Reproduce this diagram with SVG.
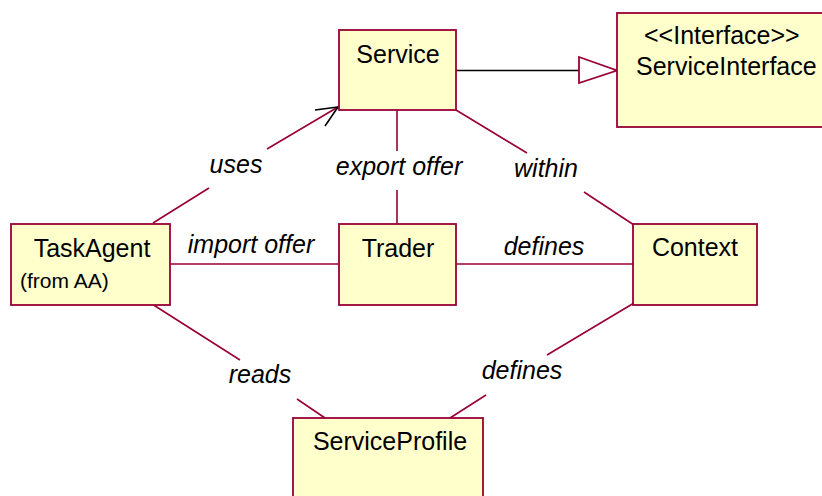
<svg xmlns="http://www.w3.org/2000/svg" width="822" height="496" viewBox="0 0 822 496">
<style>
.box{fill:#FFFFCC;stroke:#990033;stroke-width:1.8}
.name{font-family:"Liberation Sans",Arial,sans-serif;font-size:25px;fill:#000}
.small{font-family:"Liberation Sans",Arial,sans-serif;font-size:21px;fill:#000}
.lbl{font-family:"Liberation Sans",Arial,sans-serif;font-size:25px;font-style:italic;fill:#000}
.ln{stroke:#990033;stroke-width:1.6;fill:none}
</style>
<rect width="822" height="496" fill="#fff"/>
<g id="connectors">
  <path class="ln" d="M153,223 L209,188 M267,149 L338,107"/>
  <path d="M315,110 L338,107 L325,126" fill="none" stroke="#000" stroke-width="1.6"/>
  <path class="ln" d="M397,110 L397,151 M397,190 L397,224"/>
  <path class="ln" d="M456,110 L527,153 M584,192 L634,225"/>
  <path class="ln" d="M170,264 L339,264"/>
  <path class="ln" d="M456,264 L633,264"/>
  <path class="ln" d="M152,304 L240,360 M297,399 L325,418"/>
  <path class="ln" d="M634,303 L547,355 M486,395 L450,418"/>
  <path d="M456,70.5 L579,70.5" stroke="#000" stroke-width="1.6" fill="none"/>
  <path d="M579,57 L617,70.5 L579,83 Z" fill="#fff" stroke="#990033" stroke-width="1.8"/>
  <text class="lbl" x="236" y="173" text-anchor="middle">uses</text>
  <text class="lbl" x="399" y="175" text-anchor="middle">export offer</text>
  <text class="lbl" x="546" y="177" text-anchor="middle">within</text>
  <text class="lbl" x="251" y="253" text-anchor="middle">import offer</text>
  <text class="lbl" x="544" y="255" text-anchor="middle">defines</text>
  <text class="lbl" x="260" y="383" text-anchor="middle">reads</text>
  <text class="lbl" x="522" y="379" text-anchor="middle">defines</text>
</g>
<g id="Service">
  <rect class="box" x="339" y="30" width="117" height="80"/>
  <text class="name" x="398" y="63" text-anchor="middle">Service</text>
</g>
<g id="ServiceInterface">
  <rect class="box" x="617" y="13" width="215" height="114"/>
  <text class="name" x="644" y="44">&lt;&lt;Interface&gt;&gt;</text>
  <text class="name" x="636" y="75">ServiceInterface</text>
</g>
<g id="TaskAgent">
  <rect class="box" x="11" y="224" width="159" height="81"/>
  <text class="name" x="92" y="257" text-anchor="middle">TaskAgent</text>
  <text class="small" x="20" y="288">(from AA)</text>
</g>
<g id="Trader">
  <rect class="box" x="339" y="224" width="117" height="81"/>
  <text class="name" x="398" y="257" text-anchor="middle">Trader</text>
</g>
<g id="Context">
  <rect class="box" x="633" y="224" width="124" height="81"/>
  <text class="name" x="695" y="256" text-anchor="middle">Context</text>
</g>
<g id="ServiceProfile">
  <rect class="box" x="293" y="418" width="190" height="100"/>
  <text class="name" x="390" y="450" text-anchor="middle">ServiceProfile</text>
</g>
</svg>
